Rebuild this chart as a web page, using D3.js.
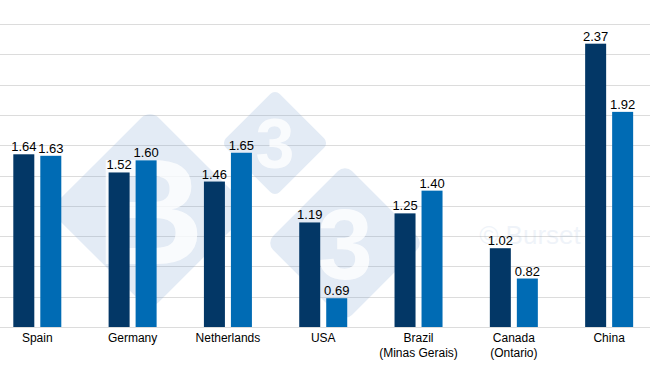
<!DOCTYPE html>
<html>
<head>
<meta charset="utf-8">
<script src="https://cdn.jsdelivr.net/npm/d3@7"></script>
<style>
  html, body { margin: 0; padding: 0; background: #fff; }
  svg { display: block; font-family: "Liberation Sans", Arial, sans-serif; }
</style>
</head>
<body>
<svg id="chart" width="650" height="366"></svg>
<script>
const categories = [["Spain"], ["Germany"], ["Netherlands"], ["USA"], ["Brazil", "(Minas Gerais)"], ["Canada", "(Ontario)"], ["China"]];
const seriesNames = ["Series A", "Series B"];
const seriesA = [1.64, 1.52, 1.46, 1.19, 1.25, 1.02, 2.37];
const seriesB = [1.63, 1.60, 1.65, 0.69, 1.40, 0.82, 1.92];
const gridTicks = [0.5, 0.7, 0.9, 1.1, 1.3, 1.5, 1.7, 1.9, 2.1, 2.3, 2.5];
const colors = ["#033766", "#006bb4"];

const svg = d3.select("#chart");
const W = 650;
const catKeys = categories.map(c => c.join(" "));

const y = d3.scaleLinear().domain([0.5, 2.5]).range([327, 24]);
const x0 = d3.scaleBand().domain(catKeys).range([-10.35, 656.8]).padding(0);
const x1 = d3.scaleBand().domain(seriesNames).range([0, 48]).paddingInner(6 / 27);
const groupOffset = (x0.bandwidth() - 48) / 2;

// grid
svg.append("g").selectAll("line").data(gridTicks).join("line")
  .attr("x1", 0).attr("x2", W)
  .attr("y1", d => Math.round(y(d)) + 0.5).attr("y2", d => Math.round(y(d)) + 0.5)
  .attr("stroke", "#dcdcdc").attr("stroke-width", 1);

// watermark (behind bars)
const wm = svg.append("g").attr("pointer-events", "none");
const diamonds = [
  { cx: 150, cy: 210, r: 105, t: "B", fs: 150 },
  { cx: 275, cy: 143, r: 56, t: "3", fs: 70 },
  { cx: 345, cy: 243, r: 82, t: "3", fs: 100 }
];
diamonds.forEach(d => {
  wm.append("rect")
    .attr("x", d.cx - d.r * 0.68).attr("y", d.cy - d.r * 0.68)
    .attr("width", d.r * 1.36).attr("height", d.r * 1.36)
    .attr("rx", d.r * 0.12)
    .attr("transform", `rotate(45 ${d.cx} ${d.cy})`)
    .attr("fill", "#7fa6d0").attr("opacity", 0.22);
  wm.append("text")
    .attr("x", d.cx).attr("y", d.cy + d.fs * 0.36)
    .attr("text-anchor", "middle").attr("font-weight", "bold")
    .attr("font-size", d.fs).attr("fill", "#fff").attr("opacity", 0.8)
    .text(d.t);
});
wm.append("text").attr("x", 530).attr("y", 244).attr("text-anchor", "middle")
  .attr("font-size", 26).attr("fill", "#7fa6d0").attr("opacity", 0.12).text("© Burset");

const rows = catKeys.map((k, i) => ({ key: k, lines: categories[i], vals: [seriesA[i], seriesB[i]] }));

const groups = svg.append("g").selectAll("g").data(rows).join("g")
  .attr("transform", d => `translate(${x0(d.key) + groupOffset},0)`);

groups.selectAll("rect").data(d => d.vals.map((v, j) => ({ v, s: seriesNames[j], j }))).join("rect")
  .attr("x", d => x1(d.s))
  .attr("width", x1.bandwidth())
  .attr("y", d => y(d.v))
  .attr("height", d => y(0.5) - y(d.v))
  .attr("fill", d => colors[d.j]);

groups.selectAll("text.val").data(d => d.vals.map((v, j) => ({ v, s: seriesNames[j] }))).join("text")
  .attr("class", "val")
  .attr("x", d => x1(d.s) + x1.bandwidth() / 2)
  .attr("y", d => y(d.v) - 3)
  .attr("text-anchor", "middle")
  .attr("font-size", 13)
  .attr("fill", "#000")
  .text(d => d.v.toFixed(2));

// category labels
const cat = svg.append("g").selectAll("text").data(rows).join("text")
  .attr("x", d => x0(d.key) + x0.bandwidth() / 2)
  .attr("y", 342)
  .attr("text-anchor", "middle")
  .attr("font-size", 12)
  .attr("fill", "#000");
cat.selectAll("tspan").data(d => d.lines).join("tspan")
  .attr("x", function() { return d3.select(this.parentNode).attr("x"); })
  .attr("dy", (d, i) => i === 0 ? 0 : 15)
  .text(d => d);
</script>
</body>
</html>
